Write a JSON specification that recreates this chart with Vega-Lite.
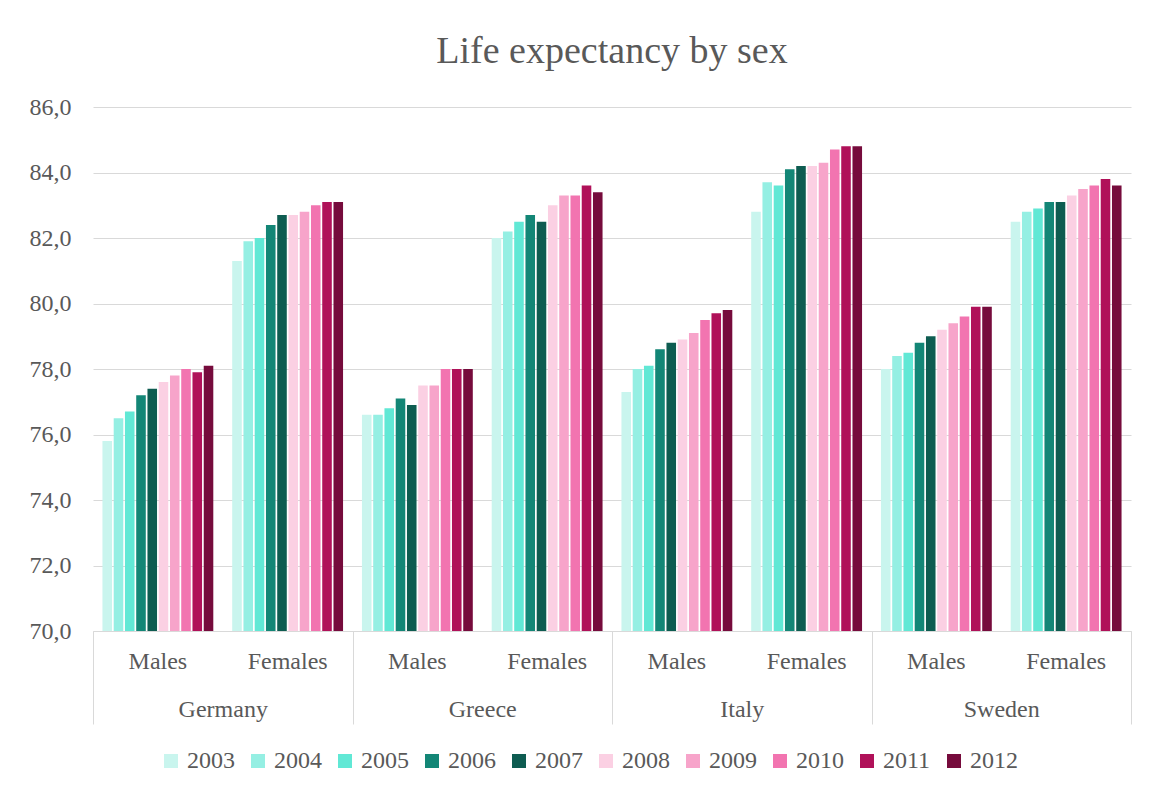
{
  "$schema": "https://vega.github.io/schema/vega-lite/v6.json",
  "width": 1038,
  "height": 524,
  "autosize": {"type": "none"},
  "padding": {"left": 93, "top": 107, "right": 19, "bottom": 162},
  "background": "white",
  "title": {"text": "Life expectancy by sex", "fontSize": 38, "font": "Liberation Serif", "fontWeight": "normal", "color": "#595959", "anchor": "middle", "offset": 24},
  "config": {
    "view": {"stroke": null},
    "font": "Liberation Serif",
    "axis": {"labelFont": "Liberation Serif", "titleFont": "Liberation Serif"},
    "legend": {"labelFont": "Liberation Serif", "titleFont": "Liberation Serif"},
    "title": {"font": "Liberation Serif"}
  },
  "data": {"values": [
    {"country":"Germany","sex":"Males","year":"2003","value":75.8},
    {"country":"Germany","sex":"Males","year":"2004","value":76.5},
    {"country":"Germany","sex":"Males","year":"2005","value":76.7},
    {"country":"Germany","sex":"Males","year":"2006","value":77.2},
    {"country":"Germany","sex":"Males","year":"2007","value":77.4},
    {"country":"Germany","sex":"Males","year":"2008","value":77.6},
    {"country":"Germany","sex":"Males","year":"2009","value":77.8},
    {"country":"Germany","sex":"Males","year":"2010","value":78.0},
    {"country":"Germany","sex":"Males","year":"2011","value":77.9},
    {"country":"Germany","sex":"Males","year":"2012","value":78.1},
    {"country":"Germany","sex":"Females","year":"2003","value":81.3},
    {"country":"Germany","sex":"Females","year":"2004","value":81.9},
    {"country":"Germany","sex":"Females","year":"2005","value":82.0},
    {"country":"Germany","sex":"Females","year":"2006","value":82.4},
    {"country":"Germany","sex":"Females","year":"2007","value":82.7},
    {"country":"Germany","sex":"Females","year":"2008","value":82.7},
    {"country":"Germany","sex":"Females","year":"2009","value":82.8},
    {"country":"Germany","sex":"Females","year":"2010","value":83.0},
    {"country":"Germany","sex":"Females","year":"2011","value":83.1},
    {"country":"Germany","sex":"Females","year":"2012","value":83.1},
    {"country":"Greece","sex":"Males","year":"2003","value":76.6},
    {"country":"Greece","sex":"Males","year":"2004","value":76.6},
    {"country":"Greece","sex":"Males","year":"2005","value":76.8},
    {"country":"Greece","sex":"Males","year":"2006","value":77.1},
    {"country":"Greece","sex":"Males","year":"2007","value":76.9},
    {"country":"Greece","sex":"Males","year":"2008","value":77.5},
    {"country":"Greece","sex":"Males","year":"2009","value":77.5},
    {"country":"Greece","sex":"Males","year":"2010","value":78.0},
    {"country":"Greece","sex":"Males","year":"2011","value":78.0},
    {"country":"Greece","sex":"Males","year":"2012","value":78.0},
    {"country":"Greece","sex":"Females","year":"2003","value":82.0},
    {"country":"Greece","sex":"Females","year":"2004","value":82.2},
    {"country":"Greece","sex":"Females","year":"2005","value":82.5},
    {"country":"Greece","sex":"Females","year":"2006","value":82.7},
    {"country":"Greece","sex":"Females","year":"2007","value":82.5},
    {"country":"Greece","sex":"Females","year":"2008","value":83.0},
    {"country":"Greece","sex":"Females","year":"2009","value":83.3},
    {"country":"Greece","sex":"Females","year":"2010","value":83.3},
    {"country":"Greece","sex":"Females","year":"2011","value":83.6},
    {"country":"Greece","sex":"Females","year":"2012","value":83.4},
    {"country":"Italy","sex":"Males","year":"2003","value":77.3},
    {"country":"Italy","sex":"Males","year":"2004","value":78.0},
    {"country":"Italy","sex":"Males","year":"2005","value":78.1},
    {"country":"Italy","sex":"Males","year":"2006","value":78.6},
    {"country":"Italy","sex":"Males","year":"2007","value":78.8},
    {"country":"Italy","sex":"Males","year":"2008","value":78.9},
    {"country":"Italy","sex":"Males","year":"2009","value":79.1},
    {"country":"Italy","sex":"Males","year":"2010","value":79.5},
    {"country":"Italy","sex":"Males","year":"2011","value":79.7},
    {"country":"Italy","sex":"Males","year":"2012","value":79.8},
    {"country":"Italy","sex":"Females","year":"2003","value":82.8},
    {"country":"Italy","sex":"Females","year":"2004","value":83.7},
    {"country":"Italy","sex":"Females","year":"2005","value":83.6},
    {"country":"Italy","sex":"Females","year":"2006","value":84.1},
    {"country":"Italy","sex":"Females","year":"2007","value":84.2},
    {"country":"Italy","sex":"Females","year":"2008","value":84.2},
    {"country":"Italy","sex":"Females","year":"2009","value":84.3},
    {"country":"Italy","sex":"Females","year":"2010","value":84.7},
    {"country":"Italy","sex":"Females","year":"2011","value":84.8},
    {"country":"Italy","sex":"Females","year":"2012","value":84.8},
    {"country":"Sweden","sex":"Males","year":"2003","value":78.0},
    {"country":"Sweden","sex":"Males","year":"2004","value":78.4},
    {"country":"Sweden","sex":"Males","year":"2005","value":78.5},
    {"country":"Sweden","sex":"Males","year":"2006","value":78.8},
    {"country":"Sweden","sex":"Males","year":"2007","value":79.0},
    {"country":"Sweden","sex":"Males","year":"2008","value":79.2},
    {"country":"Sweden","sex":"Males","year":"2009","value":79.4},
    {"country":"Sweden","sex":"Males","year":"2010","value":79.6},
    {"country":"Sweden","sex":"Males","year":"2011","value":79.9},
    {"country":"Sweden","sex":"Males","year":"2012","value":79.9},
    {"country":"Sweden","sex":"Females","year":"2003","value":82.5},
    {"country":"Sweden","sex":"Females","year":"2004","value":82.8},
    {"country":"Sweden","sex":"Females","year":"2005","value":82.9},
    {"country":"Sweden","sex":"Females","year":"2006","value":83.1},
    {"country":"Sweden","sex":"Females","year":"2007","value":83.1},
    {"country":"Sweden","sex":"Females","year":"2008","value":83.3},
    {"country":"Sweden","sex":"Females","year":"2009","value":83.5},
    {"country":"Sweden","sex":"Females","year":"2010","value":83.6},
    {"country":"Sweden","sex":"Females","year":"2011","value":83.8},
    {"country":"Sweden","sex":"Females","year":"2012","value":83.6}
  ]},
  "transform": [{"calculate": "datum.country + '|' + datum.sex", "as": "grp"}],
  "layer": [
    {
      "mark": {"type": "bar", "clip": true},
      "encoding": {
        "x": {
          "field": "grp", "type": "nominal",
          "sort": ["Germany|Males","Germany|Females","Greece|Males","Greece|Females","Italy|Males","Italy|Females","Sweden|Males","Sweden|Females"],
          "scale": {"paddingInner": 0, "paddingOuter": 0},
          "axis": {"orient": "bottom", "title": null, "labelExpr": "split(datum.label,'|')[1]", "ticks": false, "domainColor": "#d9d9d9", "labelFontSize": 24, "labelColor": "#595959", "labelPadding": 18, "labelAngle": 0, "labelFont": "Liberation Serif"}
        },
        "xOffset": {"field": "year", "type": "nominal", "scale": {"paddingInner": 0.15, "paddingOuter": 0.84}},
        "y": {
          "field": "value", "type": "quantitative",
          "scale": {"domain": [70, 86], "nice": false, "zero": false},
          "axis": {"title": null, "values": [70,72,74,76,78,80,82,84,86], "labelExpr": "replace(format(datum.value,'.1f'),'.',',')", "domain": false, "ticks": false, "gridColor": "#d9d9d9", "labelFontSize": 24, "labelColor": "#595959", "labelPadding": 22, "labelFont": "Liberation Serif"}
        },
        "color": {
          "field": "year", "type": "nominal",
          "scale": {"range": ["#c9f5ee","#95efe3","#61e8d5","#138676","#0e5c51","#fbd0e3","#f7a4ca","#f274b0","#b01159","#760b3c"]},
          "legend": {"title": null, "orient": "none", "legendX": 66, "legendY": 642, "direction": "horizontal", "symbolType": "square", "symbolSize": 196, "symbolStrokeWidth": 0, "labelFontSize": 24, "labelColor": "#595959", "labelFont": "Liberation Serif", "columnPadding": 11}
        }
      }
    },
    {
      "mark": {"type": "bar", "opacity": 0},
      "encoding": {
        "x": {
          "field": "country", "type": "nominal",
          "scale": {"paddingInner": 0, "paddingOuter": 0},
          "axis": {"orient": "bottom", "title": null, "tickBand": "extent", "tickSize": 93, "tickColor": "#d9d9d9", "domain": false, "grid": false, "labelFontSize": 24, "labelColor": "#595959", "labelPadding": -27, "labelAngle": 0, "labelFont": "Liberation Serif"}
        }
      }
    }
  ],
  "resolve": {"scale": {"x": "independent"}}
}
